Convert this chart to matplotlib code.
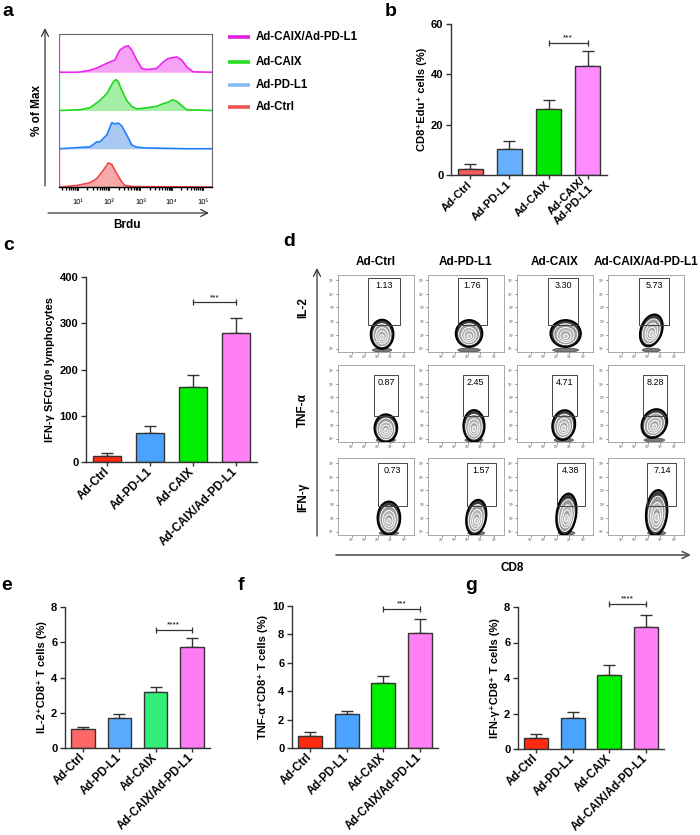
import numpy as np
import matplotlib
matplotlib.use('Agg')
import matplotlib.pyplot as plt
from matplotlib.patches import Ellipse, Rectangle

plt.rcParams['font.family'] = ['Liberation Sans', 'DejaVu Sans']

W, H = 700, 835

# ---------------- data ----------------
groups = ['Ad-Ctrl', 'Ad-PD-L1', 'Ad-CAIX', 'Ad-CAIX/Ad-PD-L1']
groups_b = ['Ad-Ctrl', 'Ad-PD-L1', 'Ad-CAIX', 'Ad-CAIX/\nAd-PD-L1']

# panel a histograms (x = log10 Brdu, y = % of band)
red_x = [0.40, 0.40, 0.43, 0.96, 1.38, 1.60, 1.81, 1.97, 2.08, 2.24, 2.40, 2.50, 2.77, 5.29]
red_y = [100, 0, 0, 4, 11, 22, 44, 63, 59, 35, 13, 4, 1, 0]
blue_x = [0.40, 0.40, 0.43, 1.38, 1.60, 1.70, 1.92, 2.08, 2.18, 2.29, 2.40, 2.56, 2.72, 2.88, 3.20, 3.84, 4.48, 5.29]
blue_y = [100, 0, 0, 5, 18, 18, 36, 68, 65, 67, 60, 36, 10, 4, 2, 1, 0, 0]
green_x = [0.40, 0.40, 0.43, 1.06, 1.38, 1.70, 1.92, 2.13, 2.22, 2.29, 2.40, 2.56, 2.72, 2.88, 3.20,
           3.52, 3.73, 3.89, 4.02, 4.16, 4.32, 4.48, 5.29]
green_y = [100, 0, 0, 2, 7, 26, 44, 75, 81, 75, 53, 26, 11, 4, 7, 11, 18, 22, 28, 24, 13, 2, 0]
mag_x = [0.40, 0.40, 0.43, 1.00, 1.38, 1.60, 2.02, 2.18, 2.34, 2.50, 2.61, 2.72, 2.88, 3.04, 3.20,
         3.52, 3.73, 3.89, 4.16, 4.32, 4.48, 4.69, 5.29]
mag_y = [100, 0, 0, 0, 5, 11, 27, 32, 58, 67, 69, 58, 32, 10, 7, 10, 27, 36, 40, 32, 14, 1, 0]
hist_labels = ['Ad-CAIX/Ad-PD-L1', 'Ad-CAIX', 'Ad-PD-L1', 'Ad-Ctrl']
decade_labels = ['10¹', '10²', '10³', '10⁴', '10⁵']

# panel b
b_vals = [2.4, 10.3, 26.2, 43.4]
b_errs = [1.8, 3.2, 3.7, 6.0]
b_sig = 52.6
# panel c
c_vals = [12, 63, 162, 279]
c_errs = [8, 15, 27, 33]
c_sig = 345
# panel d
d_rows = ['IL-2', 'TNF-α', 'IFN-γ']
d_values = [[1.13, 1.76, 3.30, 5.73],
            [0.87, 2.45, 4.71, 8.28],
            [0.73, 1.57, 4.38, 7.14]]
# gates (x0, x1, y0, y1) in axes fraction
d_gates = [[(0.40, 0.81, 0.35, 0.96), (0.39, 0.78, 0.35, 0.96), (0.41, 0.80, 0.35, 0.96), (0.41, 0.80, 0.35, 0.96)],
           [(0.47, 0.79, 0.335, 0.87), (0.455, 0.785, 0.335, 0.87), (0.46, 0.79, 0.335, 0.87), (0.46, 0.78, 0.335, 0.87)],
           [(0.52, 0.91, 0.38, 0.935), (0.51, 0.89, 0.38, 0.935), (0.52, 0.90, 0.38, 0.935), (0.515, 0.90, 0.38, 0.935)]]
# contour blobs (cx, cy, w, h, angle)
d_blobs = [[(0.58, 0.23, 0.30, 0.38, 0), (0.54, 0.24, 0.35, 0.35, 0), (0.64, 0.24, 0.40, 0.35, 0), (0.57, 0.28, 0.28, 0.43, -20)],
           [(0.63, 0.18, 0.30, 0.36, 0), (0.605, 0.21, 0.28, 0.41, 0), (0.615, 0.22, 0.30, 0.39, -10), (0.61, 0.24, 0.32, 0.39, -30)],
           [(0.67, 0.22, 0.30, 0.43, 0), (0.635, 0.23, 0.26, 0.46, -10), (0.65, 0.27, 0.26, 0.54, -8), (0.64, 0.29, 0.28, 0.59, -5)]]

# panel e, f, g
e_vals = [1.06, 1.72, 3.16, 5.72]
e_errs = [0.11, 0.19, 0.29, 0.51]
e_sig = 6.7
f_vals = [0.87, 2.39, 4.60, 8.08]
f_errs = [0.23, 0.24, 0.47, 1.02]
f_sig = 9.8
g_vals = [0.64, 1.75, 4.17, 6.89]
g_errs = [0.19, 0.35, 0.55, 0.68]
g_sig = 8.17

# ---------------- helpers ----------------
fig = plt.figure(figsize=(7, 8.35), dpi=100)


def pxax(l, t, r, b, **kw):
    return fig.add_axes([l / W, 1 - b / H, (r - l) / W, (b - t) / H], **kw)


def bar_panel(rect, vals, errs, colors, ylim, yticks, ylabel, labels, sig, stars, lab_size=8.3):
    ax = pxax(*rect)
    x = np.arange(len(vals))
    ax.errorbar(x, vals, yerr=[np.zeros(len(vals)), errs], fmt='none', ecolor='#333333',
                elinewidth=1.0, capsize=4.5, capthick=1.0, zorder=1)
    ax.bar(x, vals, width=0.65, color=colors, edgecolor='#333333', linewidth=1.0, zorder=2)
    ax.set_xlim(-0.5, 3.5)
    ax.set_ylim(*ylim)
    ax.set_yticks(yticks)
    ax.set_xticks(x)
    ax.set_xticklabels(labels, rotation=45, ha='right', va='center', rotation_mode='anchor',
                       fontsize=lab_size, fontweight='bold', multialignment='right')
    for lab in ax.get_yticklabels():
        lab.set_fontsize(8)
        lab.set_fontweight('bold')
    for s in ['top', 'right']:
        ax.spines[s].set_visible(False)
    for s in ['left', 'bottom']:
        ax.spines[s].set_color('#333333')
        ax.spines[s].set_linewidth(1.0)
    ax.tick_params(axis='y', direction='out', length=3.5, width=1.0, color='#333333', pad=2)
    ax.tick_params(axis='x', direction='out', length=3, width=1.0, color='#333333', pad=2.5)
    ax.set_ylabel(ylabel, fontsize=8, fontweight='bold', labelpad=3)
    ax.plot([2, 3], [sig, sig], color='#333333', lw=0.9, marker='|', markersize=5,
            markeredgewidth=0.9, clip_on=False)
    ax.annotate(stars, xy=(2.5, sig), xytext=(0, 1.0), textcoords='offset points',
                ha='center', va='bottom', fontsize=6, annotation_clip=False)
    return ax


# ---------------- panel a ----------------
axa = pxax(59, 34, 212, 187)
hist_sets = [(red_x, red_y, 0, '#f04848', '#f7a9a9'),
             (blue_x, blue_y, 100, '#1f7fff', '#a9c9f3'),
             (green_x, green_y, 200, '#1ed81e', '#a6eda6'),
             (mag_x, mag_y, 300, '#ee22ee', '#f6a3f6')]
for hx, hy, off, lc, fc in hist_sets:
    hy = np.asarray(hy, float)
    axa.fill_between(hx, off, off + hy, color=fc, lw=0, zorder=1)
    axa.plot(hx, off + hy, color=lc, lw=1.2, zorder=2)
axa.set_xlim(0.39, 5.29)
axa.set_ylim(0, 400)
axa.set_yticks([])
axa.set_xticks([1, 2, 3, 4, 5])
axa.set_xticklabels(decade_labels, fontsize=5.5)
minor = [n + np.log10(k) for n in range(0, 6) for k in range(2, 10) if 0.39 < n + np.log10(k) < 5.29]
axa.set_xticks(minor, minor=True)
axa.tick_params(axis='x', which='major', direction='out', length=3, width=1.2, pad=6)
axa.tick_params(axis='x', which='minor', direction='out', length=2, width=1.0)
axa.spines['left'].set_visible(False)
for s in ['top', 'right']:
    axa.spines[s].set_color('#666666')
    axa.spines[s].set_linewidth(0.8)
axa.spines['bottom'].set_color('black')
axa.spines['bottom'].set_linewidth(1.0)

# ---------------- panel b ----------------
bar_panel((451, 24, 607, 175), b_vals, b_errs,
          ['#f25c5c', '#66b0ff', '#00e800', '#ff8cff'],
          (0, 60), [0, 20, 40, 60], 'CD8⁺Edu⁺ cells (%)', groups_b, b_sig, '***', lab_size=8)

# ---------------- panel c ----------------
bar_panel((86, 277, 257, 462), c_vals, c_errs,
          ['#ff2a10', '#4aa3ff', '#00ee00', '#ff80f5'],
          (0, 400), [0, 100, 200, 300, 400], 'IFN-γ SFC/10⁶ lymphocytes', groups, c_sig, '***', lab_size=8.5)

# ---------------- panel d ----------------
col_lefts = [338, 428, 517, 608]
row_tops = [275, 365, 458]
pw, ph = 76, 77
xt_major = [0.18, 0.35, 0.52, 0.69, 0.87]
yt_major = [0.043, 0.217, 0.391, 0.578, 0.748, 0.935]
xlabs = ['10¹', '10²', '10³', '10⁴', '10⁵']
ylabs = ['10⁰', '10¹', '10²', '10³', '10⁴', '10⁵']
shades = ['#3c3c3c', '#9a9a9a', '#b4b4b4', '#a0a0a0', '#c8c8c8']
scales = [1.0, 0.78, 0.56, 0.36, 0.18]
for r in range(3):
    for c in range(4):
        l, t = col_lefts[c], row_tops[r]
        ax = pxax(l, t, l + pw, t + ph)
        ax.set_xlim(0, 1)
        ax.set_ylim(0, 1)
        for s in ax.spines.values():
            s.set_color('#9a9a9a')
            s.set_linewidth(0.6)
        ax.set_xticks(xt_major)
        ax.set_xticklabels(xlabs, fontsize=2.5, color='#555555')
        ax.set_yticks(yt_major)
        ax.set_yticklabels(ylabs, fontsize=2.5, color='#555555')
        ax.tick_params(direction='out', length=1.5, width=0.5, color='#555555', pad=1)
        cx, cy, bw, bh, ang = d_blobs[r][c]
        ax.add_patch(Ellipse((cx, 0.025), bw * 0.85, 0.05, facecolor='#7a7a7a', edgecolor='#444444', lw=0.5, zorder=2))
        for i, s in enumerate(scales):
            ax.add_patch(Ellipse((cx, cy - (1 - s) * bh * 0.12), bw * s, bh * s, angle=ang,
                                 facecolor=shades[i], edgecolor='black' if i == 0 else 'white',
                                 lw=1.4 if i == 0 else 0.7, zorder=3 + i))
        x0, x1, y0, y1 = d_gates[r][c]
        ax.add_patch(Rectangle((x0, y0), x1 - x0, y1 - y0, fill=False, edgecolor='#444444', lw=0.7, zorder=10))
        ax.text((x0 + x1) / 2, y1 - 0.1, '%.2f' % d_values[r][c], ha='center', va='center',
                fontsize=6.5, zorder=11)

# ---------------- panel e, f, g ----------------
bar_panel((65, 607, 210, 748), e_vals, e_errs,
          ['#ff6666', '#5aabff', '#33ee77', '#ff7af5'],
          (0, 8), [0, 2, 4, 6, 8], 'IL-2⁺CD8⁺ T cells (%)', groups, e_sig, '****')
bar_panel((292, 606, 438, 748), f_vals, f_errs,
          ['#ff2a10', '#4aa3ff', '#00ee00', '#ff80f5'],
          (0, 10), [0, 2, 4, 6, 8, 10], 'TNF-α⁺CD8⁺ T cells (%)', groups, f_sig, '***')
bar_panel((518, 607, 664, 749), g_vals, g_errs,
          ['#ff2a10', '#4aa3ff', '#00ee00', '#ff80f5'],
          (0, 8), [0, 2, 4, 6, 8], 'IFN-γ⁺CD8⁺ T cells (%)', groups, g_sig, '****')

# ---------------- overlay (annotations in pixel space) ----------------
ov = fig.add_axes([0, 0, 1, 1], zorder=20)
ov.set_xlim(0, W)
ov.set_ylim(H, 0)
ov.axis('off')
ov.patch.set_alpha(0)

for lab, x, y in [('a', 2, 11), ('b', 385, 11), ('c', 3, 245), ('d', 283, 242),
                  ('e', 1, 585), ('f', 238, 585), ('g', 465, 585)]:
    ov.text(x, y, lab, fontsize=14, fontweight='bold', ha='left', va='center')

arrow = dict(arrowstyle='->,head_length=0.5,head_width=0.25', color='#333333', lw=0.9, shrinkA=0, shrinkB=0)
ov.annotate('', xy=(45, 28), xytext=(45, 186), arrowprops=arrow)
ov.annotate('', xy=(209, 213), xytext=(48, 213), arrowprops=arrow)
ov.text(37, 110, '% of Max', rotation=90, ha='center', va='center', fontsize=8.5, fontweight='bold')
ov.text(127, 225, 'Brdu', ha='center', va='center', fontsize=8.5, fontweight='bold')

leg_colors = ['#e020e0', '#22dd22', '#88bbf5', '#ee5555']
for i, (lab, col) in enumerate(zip(hist_labels, leg_colors)):
    y = [37, 62, 85, 107][i]
    ov.plot([228, 250], [y, y], color=col, lw=2.6, solid_capstyle='butt')
    ov.text(256, y, lab, ha='left', va='center', fontsize=8.3, fontweight='bold')

# panel d annotations
for c, lab in enumerate(groups):
    ov.text(col_lefts[c] + pw / 2, 262, lab, ha='center', va='center', fontsize=8.5, fontweight='bold')
for lab, y in zip(d_rows, [308, 410, 497]):
    ov.text(303, y, lab, rotation=90, ha='center', va='center', fontsize=8.5, fontweight='bold')
ov.annotate('', xy=(317, 268), xytext=(317, 536), arrowprops=arrow)
ov.annotate('', xy=(691, 555), xytext=(336, 555),
            arrowprops=dict(arrowstyle='->,head_length=0.5,head_width=0.25', color='#555555', lw=1.2,
                            shrinkA=0, shrinkB=0))
ov.text(512, 568, 'CD8', ha='center', va='center', fontsize=8.5, fontweight='bold')

fig.savefig('out.png', dpi=100)
